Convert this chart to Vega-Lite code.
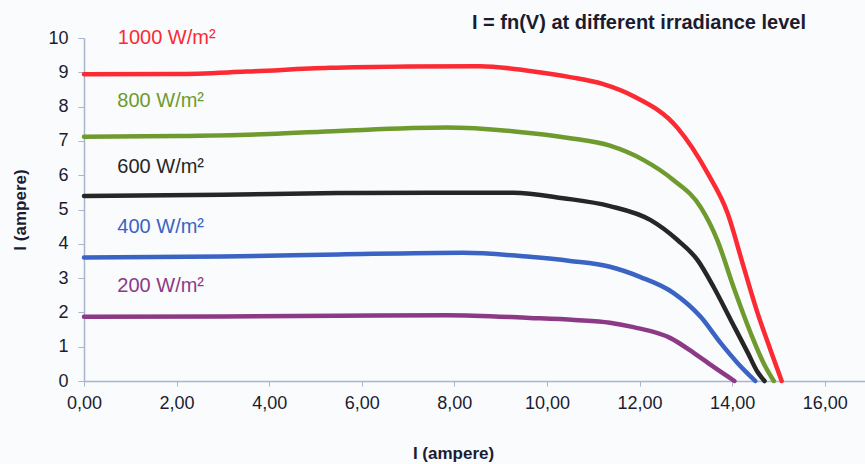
{
  "$schema": "https://vega.github.io/schema/vega-lite/v6.json",
  "autosize": "none",
  "width": 781,
  "height": 343,
  "padding": {"left": 84, "top": 38, "right": 0, "bottom": 83},
  "background": "#f9fbfd",
  "config": {
    "view": {"stroke": null},
    "font": "Liberation Sans",
    "axis": {"grid": false, "domainColor": "#a9b5cc", "tickColor": "#a9b5cc", "domainWidth": 1.5, "labelColor": "#1c1c30", "titleColor": "#1c1c30", "labelFont": "Liberation Sans", "titleFont": "Liberation Sans", "labelOverlap": false, "labelFlush": false}
  },
  "title": {
    "text": "I = fn(V) at different irradiance level",
    "anchor": "start",
    "dx": 460,
    "fontSize": 20,
    "fontWeight": "bold",
    "color": "#1c1c30",
    "offset": -5
  },
  "datasets": {
    "curves": [
      {"series": "1000", "v": 0, "i": 8.94},
      {"series": "1000", "v": 2, "i": 8.95},
      {"series": "1000", "v": 3.5, "i": 9.02},
      {"series": "1000", "v": 5.3, "i": 9.13},
      {"series": "1000", "v": 7, "i": 9.17},
      {"series": "1000", "v": 8.55, "i": 9.18},
      {"series": "1000", "v": 9.63, "i": 9.04},
      {"series": "1000", "v": 10.5, "i": 8.86},
      {"series": "1000", "v": 11.2, "i": 8.66},
      {"series": "1000", "v": 11.87, "i": 8.3},
      {"series": "1000", "v": 12.82, "i": 7.38},
      {"series": "1000", "v": 13.47, "i": 6.06},
      {"series": "1000", "v": 13.9, "i": 4.9},
      {"series": "1000", "v": 14.25, "i": 3.32},
      {"series": "1000", "v": 14.55, "i": 1.98},
      {"series": "1000", "v": 14.83, "i": 0.9},
      {"series": "1000", "v": 15.07, "i": 0},
      {"series": "800", "v": 0, "i": 7.12},
      {"series": "800", "v": 2, "i": 7.14},
      {"series": "800", "v": 4, "i": 7.2},
      {"series": "800", "v": 5.5, "i": 7.29},
      {"series": "800", "v": 7.83, "i": 7.39},
      {"series": "800", "v": 9.35, "i": 7.27},
      {"series": "800", "v": 10.5, "i": 7.08},
      {"series": "800", "v": 11.36, "i": 6.86},
      {"series": "800", "v": 12.09, "i": 6.44},
      {"series": "800", "v": 12.73, "i": 5.86},
      {"series": "800", "v": 13.32, "i": 5.07},
      {"series": "800", "v": 13.68, "i": 4.11},
      {"series": "800", "v": 14.03, "i": 2.74},
      {"series": "800", "v": 14.4, "i": 1.4},
      {"series": "800", "v": 14.68, "i": 0.52},
      {"series": "800", "v": 14.9, "i": 0},
      {"series": "600", "v": 0, "i": 5.39},
      {"series": "600", "v": 3, "i": 5.43},
      {"series": "600", "v": 5.5, "i": 5.48},
      {"series": "600", "v": 7.5, "i": 5.49},
      {"series": "600", "v": 9.27, "i": 5.49},
      {"series": "600", "v": 10.35, "i": 5.33},
      {"series": "600", "v": 11.36, "i": 5.1},
      {"series": "600", "v": 12.24, "i": 4.69},
      {"series": "600", "v": 12.82, "i": 4.11},
      {"series": "600", "v": 13.25, "i": 3.53},
      {"series": "600", "v": 13.6, "i": 2.74},
      {"series": "600", "v": 13.97, "i": 1.78},
      {"series": "600", "v": 14.34, "i": 0.82},
      {"series": "600", "v": 14.55, "i": 0.26},
      {"series": "600", "v": 14.7, "i": 0},
      {"series": "400", "v": 0, "i": 3.6},
      {"series": "400", "v": 3, "i": 3.63},
      {"series": "400", "v": 5.5, "i": 3.69},
      {"series": "400", "v": 8.19, "i": 3.74},
      {"series": "400", "v": 9.63, "i": 3.62},
      {"series": "400", "v": 10.5, "i": 3.5},
      {"series": "400", "v": 11.36, "i": 3.33},
      {"series": "400", "v": 12.02, "i": 3.03},
      {"series": "400", "v": 12.73, "i": 2.57},
      {"series": "400", "v": 13.32, "i": 1.87},
      {"series": "400", "v": 13.75, "i": 1.11},
      {"series": "400", "v": 14.12, "i": 0.52},
      {"series": "400", "v": 14.5, "i": 0},
      {"series": "200", "v": 0, "i": 1.87},
      {"series": "200", "v": 3, "i": 1.88},
      {"series": "200", "v": 5.5, "i": 1.9},
      {"series": "200", "v": 7.84, "i": 1.92},
      {"series": "200", "v": 9.63, "i": 1.84},
      {"series": "200", "v": 10.6, "i": 1.78},
      {"series": "200", "v": 11.36, "i": 1.7},
      {"series": "200", "v": 11.87, "i": 1.57},
      {"series": "200", "v": 12.67, "i": 1.25},
      {"series": "200", "v": 13.17, "i": 0.82},
      {"series": "200", "v": 13.6, "i": 0.41},
      {"series": "200", "v": 14.05, "i": 0}
    ],
    "labels": [
      {"series": "1000", "text": "1000 W/m²", "v": 0.73, "i": 9.99},
      {"series": "800", "text": "800 W/m²", "v": 0.72, "i": 8.15},
      {"series": "600", "text": "600 W/m²", "v": 0.72, "i": 6.24},
      {"series": "400", "text": "400 W/m²", "v": 0.72, "i": 4.5},
      {"series": "200", "text": "200 W/m²", "v": 0.72, "i": 2.76}
    ]
  },
  "encoding": {
    "x": {
      "field": "v", "type": "quantitative",
      "scale": {"domain": [0, 16.87], "nice": false, "zero": true},
      "axis": {
        "title": "I (ampere)",
        "values": [0, 2, 4, 6, 8, 10, 12, 14, 16],
        "labelExpr": "replace(format(datum.value, '.2f'), '.', ',')",
        "labelFontSize": 18,
        "labelPadding": 8,
        "tickSize": 5,
        "titleFontSize": 17,
        "titleFontWeight": "bold",
        "titleX": 369,
        "titlePadding": 33
      }
    },
    "y": {
      "field": "i", "type": "quantitative",
      "scale": {"domain": [0, 10], "nice": false},
      "axis": {
        "title": "I (ampere)",
        "values": [0, 1, 2, 3, 4, 5, 6, 7, 8, 9, 10],
        "labelOverlap": false,
        "labelFontSize": 18,
        "labelPadding": 10,
        "tickSize": 6,
        "titleFontSize": 17,
        "titleFontWeight": "bold",
        "titlePadding": 18
      }
    },
    "color": {
      "field": "series", "type": "nominal",
      "scale": {"domain": ["1000", "800", "600", "400", "200"], "range": ["#fb2a33", "#6f9a2e", "#262626", "#3a63c4", "#8c3a86"]},
      "legend": null
    }
  },
  "layer": [
    {
      "data": {"name": "curves"},
      "mark": {"type": "line", "interpolate": "monotone", "strokeWidth": 4.5, "strokeCap": "round"},
      "encoding": {
        "detail": {"field": "series"}
      }
    },
    {
      "data": {"name": "labels"},
      "mark": {"type": "text", "align": "left", "baseline": "middle", "fontSize": 20, "font": "Liberation Sans"},
      "encoding": {
        "text": {"field": "text"}
      }
    }
  ]
}
